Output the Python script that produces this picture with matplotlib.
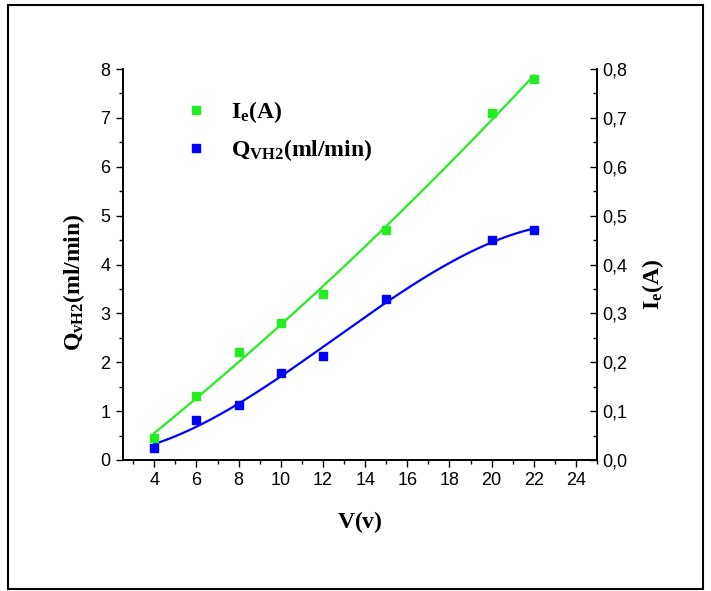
import matplotlib.pyplot as plt
import numpy as np
from matplotlib.patches import Rectangle
from matplotlib.ticker import MultipleLocator, FuncFormatter

plt.rcParams['font.family'] = ['Liberation Sans', 'DejaVu Sans']
plt.rcParams['mathtext.fontset'] = 'custom'
plt.rcParams['mathtext.rm'] = 'Liberation Serif'
plt.rcParams['mathtext.it'] = 'Liberation Serif:italic'
plt.rcParams['mathtext.bf'] = 'Liberation Serif:bold'

# measured points
V = np.array([4, 6, 8, 10, 12, 15, 20, 22])
Ie = np.array([0.045, 0.13, 0.22, 0.28, 0.34, 0.47, 0.71, 0.78])
Q = np.array([0.25, 0.82, 1.13, 1.77, 2.13, 3.3, 4.5, 4.7])

green = '#22ee22'
blue = '#0000ff'
f_s = 13

fig = plt.figure(figsize=(7.11, 5.91), dpi=100)
ax = fig.add_axes([0.1726, 0.2217, 0.6671, 0.6615])
ax2 = ax.twinx()

# fitted curves
xs = np.linspace(4, 22, 200)
pq = np.polyfit(V, Q, 3)
pi = np.polyfit(V, Ie, 2)
ax.plot(xs, np.polyval(pq, xs), color=blue, lw=1.6)
ax.plot(V, Q, 's', color=blue, ms=5.5, label=r'$\mathbf{Q_{VH2}(ml/min)}$')
ax2.plot(xs, np.polyval(pi, xs), color=green, lw=1.6)
ax2.plot(V, Ie, 's', color=green, ms=5.5, label=r'$\mathbf{I_{e}(A)}$')

ax.set_xlim(2.5, 25)
ax.set_ylim(0, 8)
ax2.set_ylim(0, 0.8)

ax.xaxis.set_minor_locator(MultipleLocator(1))
ax.set_xticks(np.arange(4, 25, 2))
ax.yaxis.set_major_locator(MultipleLocator(1))
ax.yaxis.set_minor_locator(MultipleLocator(0.5))
ax2.yaxis.set_major_locator(MultipleLocator(0.1))
ax2.yaxis.set_minor_locator(MultipleLocator(0.05))
ax2.yaxis.set_major_formatter(FuncFormatter(lambda v, p: ('%.1f' % v).replace('.', ',')))

ax.tick_params(axis='both', which='major', direction='out', length=5, width=1, labelsize=f_s, pad=4)
ax.tick_params(axis='both', which='minor', direction='out', length=3, width=1)
ax2.tick_params(axis='y', which='major', direction='in', length=5, width=1, labelsize=f_s, pad=4)
ax2.tick_params(axis='y', which='minor', direction='in', length=3, width=1)

for a in (ax, ax2):
    a.spines['top'].set_visible(False)
    for s in a.spines.values():
        s.set_linewidth(1.2)

ax.set_xlabel(r'$\mathbf{V(v)}$', fontsize=17, labelpad=14)
ax.set_ylabel(r'$\mathbf{Q_{vH2}(ml/min)}$', fontsize=17)
ax.yaxis.set_label_coords(-0.075, 0.455)
ax2.set_ylabel(r'$\mathbf{I_{e}(A)}$', fontsize=17, rotation=90)
ax2.yaxis.set_label_coords(1.09, 0.448)

h1, l1 = ax2.get_legend_handles_labels()
h2, l2 = ax.get_legend_handles_labels()
ax2.legend(h1 + h2, l1 + l2, loc='upper left', bbox_to_anchor=(0.08, 0.977),
           frameon=False, fontsize=17, handletextpad=0.9, labelspacing=0.5,
           handlelength=1.2, numpoints=1)

fig.patches.append(Rectangle((8 / 711, 1 - 589 / 591), 695 / 711, 584 / 591,
                             transform=fig.transFigure, fill=False,
                             edgecolor='black', lw=1.5))

plt.savefig('out.png', dpi=100)
